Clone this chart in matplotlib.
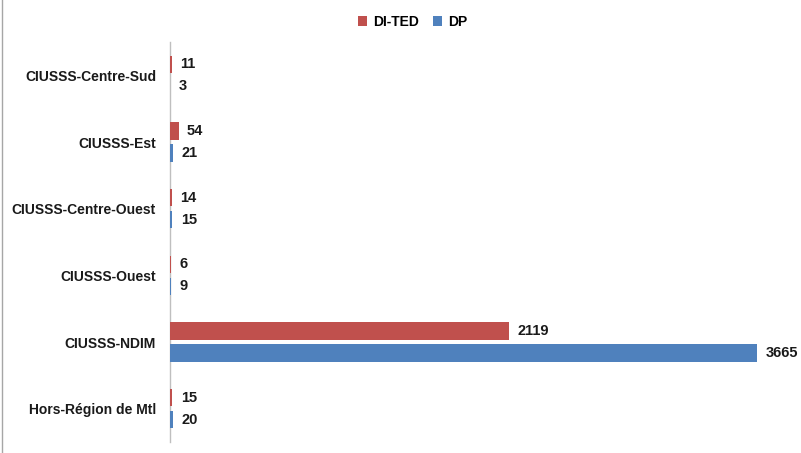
import matplotlib.pyplot as plt
import numpy as np
from matplotlib.lines import Line2D

categories = ['CIUSSS-Centre-Sud', 'CIUSSS-Est', 'CIUSSS-Centre-Ouest',
              'CIUSSS-Ouest', 'CIUSSS-NDIM', 'Hors-Région de Mtl']
di_ted = [11, 54, 14, 6, 2119, 15]
dp = [3, 21, 15, 9, 3665, 20]

RED = '#C0504D'
BLUE = '#4F81BD'

plt.rcParams['font.family'] = ['Liberation Sans', 'DejaVu Sans']

fig = plt.figure(figsize=(8.01, 4.53), dpi=100)
ax = fig.add_axes([170 / 801, 1 - 442 / 453, (757 - 170) / 801, 400 / 453])

y = np.arange(len(categories))
h = 0.26
off = 0.165
b1 = ax.barh(y - off, di_ted, height=h, color=RED, label='DI-TED', zorder=3)
b2 = ax.barh(y + off, dp, height=h, color=BLUE, label='DP', zorder=3)

for bars in (b1, b2):
    ax.bar_label(bars, padding=6, fontsize=10.5, fontweight='bold', color='#1a1a1a')

ax.set_xlim(0, 3665)
ax.set_ylim(len(categories) - 0.5, -0.5)
ax.set_yticks(y)
ax.set_yticklabels(categories, fontsize=10, fontweight='bold', color='#1a1a1a')
ax.tick_params(axis='y', length=0, pad=15 - 5)
ax.set_xticks([])
for s in ('top', 'right', 'bottom'):
    ax.spines[s].set_visible(False)
ax.spines['left'].set_color('#BFBFBF')
ax.spines['left'].set_linewidth(1)
ax.spines['left'].set_zorder(1)

fig.legend(loc='upper center', bbox_to_anchor=(0.515, 0.995), ncol=2, frameon=False,
           prop={'weight': 'bold', 'size': 10}, handlelength=0.7, handleheight=0.7,
           handletextpad=0.4, columnspacing=1.0)

fig.add_artist(Line2D([2 / 801, 2 / 801], [0, 1], color='#A6A6A6', lw=1))

fig.savefig('out.png', dpi=100, facecolor='white')
